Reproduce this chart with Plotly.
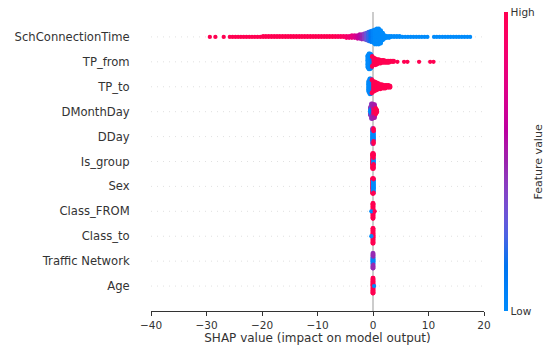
import math
import plotly.graph_objects as go

# ---------------- data ----------------
# features listed bottom -> top
features = ["Age", "Traffic Network", "Class_to", "Class_FROM", "Sex", "Is_group",
            "DDay", "DMonthDay", "TP_to", "TP_from", "SchConnectionTime"]

x_tick_vals = [-40, -30, -20, -10, 0, 10, 20]
x_tick_text = ["\u221240", "\u221230", "\u221220", "\u221210", "0", "10", "20"]

# groups of points: (SHAP value, number of stacked points, normalised feature value)
sch_connection_time = [
    (-29.4, 1, 1.0), (-28.4, 1, 1.0), (-26.9, 1, 1.0),
    (-25.8, 1, 1.0), (-25.3, 1, 1.0), (-24.8, 1, 1.0), (-24.3, 1, 1.0), (-23.8, 1, 1.0),
    (-23.3, 1, 1.0), (-22.8, 1, 1.0), (-22.3, 1, 1.0), (-21.8, 1, 1.0), (-21.3, 1, 1.0),
    (-20.8, 1, 1.0), (-20.3, 1, 1.0), (-19.8, 2, 1.0), (-19.3, 2, 1.0), (-18.8, 2, 1.0),
    (-18.3, 2, 1.0), (-17.8, 2, 1.0), (-17.3, 2, 1.0), (-16.8, 2, 1.0), (-16.3, 2, 1.0),
    (-15.8, 2, 1.0), (-15.3, 2, 1.0), (-14.8, 2, 1.0), (-14.3, 2, 1.0), (-13.8, 2, 1.0),
    (-13.3, 2, 1.0), (-12.8, 2, 1.0), (-12.3, 2, 1.0), (-11.8, 2, 1.0), (-11.3, 2, 1.0),
    (-10.8, 2, 1.0), (-10.3, 2, 1.0), (-9.8, 2, 1.0), (-9.3, 2, 1.0), (-8.8, 2, 1.0),
    (-8.3, 2, 1.0), (-7.8, 2, 1.0), (-7.3, 2, 1.0), (-6.8, 2, 0.98), (-6.3, 2, 0.97),
    (-5.8, 2, 0.95), (-5.3, 2, 0.93), (-4.8, 3, 0.9), (-4.3, 3, 0.86), (-3.8, 4, 0.8),
    (-3.3, 4, 0.74), (-2.8, 5, 0.66), (-2.4, 6, 0.58), (-2.0, 7, 0.5), (-1.6, 8, 0.42),
    (-1.2, 10, 0.32), (-0.8, 12, 0.22), (-0.4, 14, 0.12), (0.0, 16, 0.05),
    (0.35, 19, 0.0), (0.7, 20, 0.0), (1.05, 20, 0.0), (1.4, 17, 0.0), (1.75, 10, 0.0),
    (2.1, 5, 0.0), (2.5, 3, 0.0), (2.9, 3, 0.0),
    (3.3, 2, 0.0), (3.8, 2, 0.0), (4.3, 2, 0.0), (4.8, 2, 0.0), (5.3, 1, 0.0),
    (5.8, 1, 0.0), (6.3, 1, 0.0), (6.8, 1, 0.0), (7.3, 1, 0.0), (7.8, 1, 0.0),
    (8.3, 1, 0.0), (8.8, 1, 0.0), (9.3, 1, 0.0), (9.8, 1, 0.0),
    (11.0, 1, 0.0), (11.5, 1, 0.0), (12.0, 1, 0.0), (12.5, 1, 0.0), (13.0, 1, 0.0),
    (13.5, 1, 0.0), (14.0, 1, 0.0), (14.5, 1, 0.0), (15.0, 1, 0.0), (15.5, 1, 0.0),
    (16.0, 1, 0.0), (16.5, 1, 0.0), (17.0, 1, 0.0), (17.5, 1, 0.0),
]
tp_from = [
    (-0.95, 16, 0.0), (-0.75, 20, 0.0), (-0.55, 20, 0.0), (-0.35, 18, 0.05),
    (-0.15, 10, 0.1), (-0.15, 4, 1.0),
    (0.15, 10, 1.0), (0.45, 9, 1.0), (0.75, 7, 1.0), (1.05, 6, 1.0), (1.35, 5, 1.0),
    (1.65, 4, 1.0), (1.95, 4, 1.0), (2.25, 3, 1.0), (2.55, 3, 1.0), (2.85, 3, 1.0),
    (3.15, 2, 1.0), (3.45, 2, 1.0), (3.75, 2, 1.0), (4.4, 1, 1.0), (5.6, 1, 1.0),
    (6.2, 1, 1.0), (8.3, 1, 1.0), (10.3, 1, 1.0), (10.9, 1, 1.0),
]
tp_to = [
    (-0.8, 14, 0.0), (-0.6, 20, 0.0), (-0.4, 20, 0.02), (-0.2, 14, 0.05), (-0.2, 4, 1.0),
    (0.1, 14, 1.0), (0.4, 12, 1.0), (0.7, 10, 1.0), (1.0, 8, 1.0), (1.3, 7, 1.0),
    (1.6, 6, 1.0), (1.9, 5, 1.0), (2.2, 5, 1.0), (2.5, 4, 1.0), (2.8, 4, 1.0), (3.1, 3, 1.0),
]
dmonthday = [
    (-0.5, 6, 0.0), (-0.5, 4, 0.45),
    (-0.3, 10, 0.02), (-0.3, 8, 0.45),
    (-0.1, 8, 0.15), (-0.1, 10, 0.5),
    (0.1, 8, 0.85), (0.1, 8, 0.5),
    (0.3, 10, 1.0), (0.3, 6, 0.55),
    (0.5, 8, 1.0), (0.7, 4, 1.0),
]
dday = [
    (-0.1, 12, 0.0), (-0.1, 6, 0.45), (0.0, 16, 0.0), (0.0, 2, 0.4),
    (0.1, 10, 0.02), (0.1, 8, 1.0),
]
is_group = [
    (-0.1, 18, 1.0), (0.0, 18, 1.0), (0.1, 6, 0.0), (0.1, 12, 1.0),
]
sex = [
    (-0.1, 18, 1.0), (0.0, 14, 0.0), (0.0, 4, 1.0), (0.1, 14, 0.0), (0.1, 4, 1.0),
]
class_from = [
    (-0.05, 18, 1.0), (0.05, 18, 1.0), (-0.3, 1, 0.0), (0.3, 1, 1.0),
]
class_to = [
    (-0.05, 18, 1.0), (0.05, 18, 1.0), (-0.3, 1, 0.0),
]
traffic_network = [
    (-0.05, 8, 0.1), (-0.05, 10, 0.42), (0.05, 8, 0.05), (0.05, 10, 0.48),
]
age = [
    (-0.05, 18, 1.0), (0.05, 18, 1.0), (0.2, 1, 0.0),
]

rows = [age, traffic_network, class_to, class_from, sex, is_group,
        dday, dmonthday, tp_to, tp_from, sch_connection_time]


# ---------------- shap "red_blue" colormap (LCH interpolation) ----------------
def lch2rgb(L, C, H):
    a, b = C * math.cos(H), C * math.sin(H)
    fy = (L + 16) / 116.0
    fx = a / 500.0 + fy
    fz = fy - b / 200.0

    def finv(f):
        return f ** 3 if f ** 3 > 0.008856 else (f - 16 / 116.0) / 7.787

    X, Y, Z = finv(fx) * 0.95047, finv(fy) * 1.0, finv(fz) * 1.08883
    r = 3.2406 * X - 1.5372 * Y - 0.4986 * Z
    g = -0.9689 * X + 1.8758 * Y + 0.0415 * Z
    bl = 0.0557 * X - 0.2040 * Y + 1.0570 * Z

    def gam(c):
        c = 1.055 * c ** (1 / 2.4) - 0.055 if c > 0.0031308 else 12.92 * c
        return min(max(c, 0.0), 1.0)

    return gam(r), gam(g), gam(bl)


blue_lch = (54.0, 70.0, 4.6588)
red_lch = (54.0, 90.0, 0.35470565 + 2 * math.pi)
l_mid = 40.0
nsteps = 21
colorscale = []
for i in range(nsteps):
    t = i / (nsteps - 1)
    if t <= 0.5:
        L = blue_lch[0] + (l_mid - blue_lch[0]) * (t / 0.5)
    else:
        L = l_mid + (red_lch[0] - l_mid) * ((t - 0.5) / 0.5)
    C = blue_lch[1] + (red_lch[1] - blue_lch[1]) * t
    H = blue_lch[2] + (red_lch[2] - blue_lch[2]) * t
    r, g, b = lch2rgb(L, C, H)
    colorscale.append([t, "rgb(%d,%d,%d)" % (round(r * 255), round(g * 255), round(b * 255))])

# ---------------- beeswarm layout (stack points that share a value) ----------------
px_all, py_all, pc_all = [], [], []
row_height = 0.4
for row_idx, groups in enumerate(rows):
    layer_count = {}
    pts = []
    for (sv, n, fv) in groups:
        for _ in range(n):
            layer = layer_count.get(sv, 0)
            off = math.ceil(layer / 2) * ((layer % 2) * 2 - 1)
            layer_count[sv] = layer + 1
            pts.append((sv, off, fv))
    max_off = max(p[1] + 1 for p in pts)
    scale = 0.9 * row_height / max_off
    for sv, off, fv in pts:
        px_all.append(sv)
        py_all.append(row_idx + off * scale)
        pc_all.append(fv)

fig = go.Figure()
fig.add_trace(go.Scatter(
    x=px_all, y=py_all, mode="markers", hoverinfo="skip",
    marker=dict(
        size=4.3, color=pc_all, colorscale=colorscale, cmin=0, cmax=1,
        line=dict(width=0), opacity=1,
        showscale=True,
        colorbar=dict(
            thickness=4, len=1, lenmode="fraction", y=0.5, yanchor="middle",
            x=1.06, xanchor="left", xpad=0, ypad=0, outlinewidth=0,
            tickvals=[0, 1], ticktext=["Low", "High"], ticks="", ticklen=0,
            tickfont=dict(size=10.5, color="#333333", family="DejaVu Sans"),
        ),
    ),
))

shapes = [dict(type="line", xref="x", yref="paper", x0=0, x1=0, y0=0, y1=1,
               line=dict(color="#999999", width=1), layer="below")]
for i in range(len(features)):
    shapes.append(dict(type="line", xref="x", yref="y", x0=-40, x1=20, y0=i, y1=i,
                       line=dict(color="#cccccc", width=0.6, dash="1px,5px"), layer="below"))

fig.update_layout(
    width=546, height=347,
    margin=dict(l=151, r=62, t=12, b=36, autoexpand=False),
    plot_bgcolor="white", paper_bgcolor="white",
    showlegend=False,
    font=dict(family="DejaVu Sans", color="#333333"),
    shapes=shapes,
    xaxis=dict(
        range=[-40, 20], tickvals=x_tick_vals, ticktext=x_tick_text,
        ticks="outside", ticklen=4, tickwidth=1, tickcolor="#333333",
        showline=True, linecolor="#333333", linewidth=1,
        showgrid=False, zeroline=False, automargin=False,
        tickfont=dict(size=10.5, color="#333333"),
        title=dict(text="SHAP value (impact on model output)",
                   font=dict(size=12, color="#333333"), standoff=2),
    ),
    yaxis=dict(
        range=[-1, 11], tickvals=list(range(len(features))), ticktext=features,
        ticks="outside", ticklen=18, tickcolor="rgba(0,0,0,0)",
        showgrid=False, zeroline=False, showline=False, automargin=False,
        tickfont=dict(size=11.6, color="#333333"),
    ),
    annotations=[dict(text="Feature value", xref="paper", yref="paper",
                      x=1.165, y=0.5, xanchor="center", yanchor="middle",
                      textangle=-90, showarrow=False,
                      font=dict(size=11, color="#333333"))],
)

fig.write_html("out.html", config={"displayModeBar": False},
               post_script="document.body.style.margin='0';")
